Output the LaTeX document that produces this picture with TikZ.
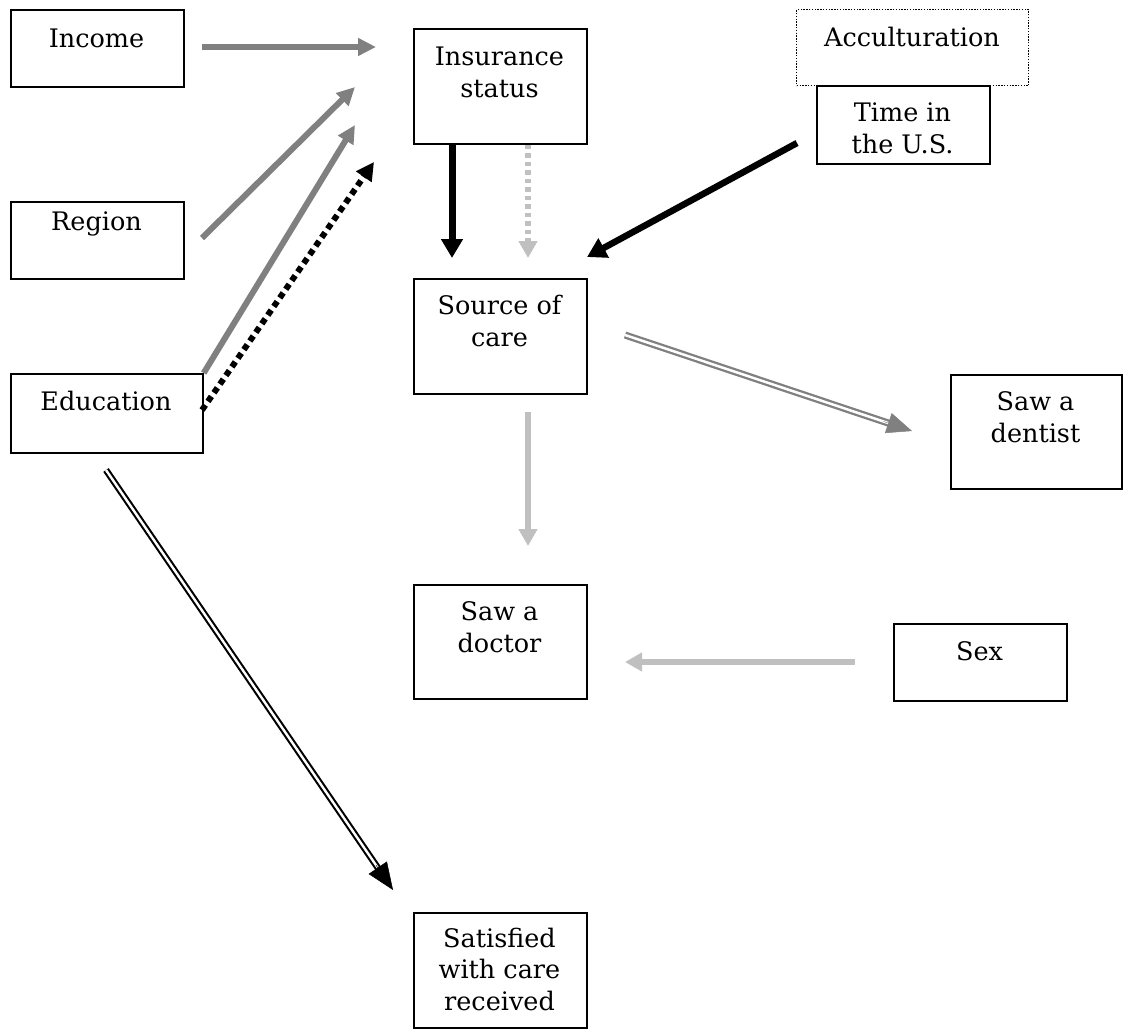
\documentclass[tikz,border=0pt]{standalone}
\usepackage{fontspec}
\setmainfont{DejaVu Serif}
\usetikzlibrary{arrows.meta,calc}
\definecolor{midgray}{RGB}{128,128,128}
\definecolor{lightgr}{RGB}{192,192,192}
\tikzset{
  box/.style={draw, line width=1.7pt, rectangle, anchor=north west, inner sep=0pt},
  dotbox/.style={box, line width=1.4pt, dash pattern=on 1.4pt off 1.4pt},
  lbl/.style={anchor=base, align=center, inner sep=0pt, font=\fontsize{25.5}{31.5}\selectfont},
  grayarr/.style={draw=midgray, line width=6pt, -{Triangle[length=18pt,width=17pt]}},
  blackarr/.style={draw=black, line width=7pt, -{Triangle[length=19pt,width=21pt]}},
  blackdot/.style={draw=black, line width=6pt, dash pattern=on 6pt off 4.5pt, -{Triangle[length=18pt,width=18pt]}},
  lightdot/.style={draw=lightgr, line width=5.5pt, dash pattern=on 4.5pt off 4pt, -{Triangle[length=17pt,width=18pt]}},
  lightarr/.style={draw=lightgr, line width=5.5pt, -{Triangle[length=17pt,width=18pt]}},
  dblgray/.style={draw=midgray, line width=2.3pt, double=white, double distance=2.5pt},
  dblblack/.style={draw=black, line width=2.1pt, double=white, double distance=2.4pt},
}
\begin{document}
\begin{tikzpicture}[x=1pt,y=-1pt]
\useasboundingbox[fill=white] (0,0) rectangle (1124,1029);

% boxes
\node[box, minimum width=173pt, minimum height=77pt] (income) at (10,9) {};
\node[box, minimum width=173pt, minimum height=115pt] (insurance) at (413,28) {};
\node[dotbox, minimum width=232pt, minimum height=76pt] (accult) at (796,9) {};
\node[box, minimum width=173pt, minimum height=78pt] (time) at (816,85) {};
\node[box, minimum width=173pt, minimum height=77pt] (region) at (10,201) {};
\node[box, minimum width=173pt, minimum height=115pt] (source) at (413,278) {};
\node[box, minimum width=192pt, minimum height=79pt] (education) at (10,373) {};
\node[box, minimum width=171pt, minimum height=114pt] (dentist) at (950,374) {};
\node[box, minimum width=173pt, minimum height=114pt] (doctor) at (413,584) {};
\node[box, minimum width=173pt, minimum height=77pt] (sex) at (893,623) {};
\node[box, minimum width=173pt, minimum height=115pt] (satisfied) at (413,912) {};

% texts (anchor = baseline of last line)
\node[lbl] (tincome) at (96.5,47) {Income};
\node[lbl] (tinsurance) at (499.5,97) {Insurance\\status};
\node[lbl] (taccult) at (912,46) {Acculturation};
\node[lbl] (ttime) at (902.5,153) {Time in\\the U.S.};
\node[lbl] (tregion) at (96.5,230) {Region};
\node[lbl] (tsource) at (499.5,346) {Source of\\care};
\node[lbl] (teducation) at (106,410) {Education};
\node[lbl] (tdentist) at (1035.5,442) {Saw a\\dentist};
\node[lbl] (tdoctor) at (499.5,652) {Saw a\\doctor};
\node[lbl] (tsex) at (979.5,660) {Sex};
\node[lbl] (tsatisfied) at (499.5,1010) {Satisfied\\with care\\received};

% connector end points
\coordinate (a1s) at (202,47);   \coordinate (a1e) at (376,47);
\coordinate (a2s) at (202,238);  \coordinate (a2e) at (355,87);
\coordinate (a3e) at (355,125);
\coordinate (a4s) at (202,410);  \coordinate (a4e) at (374,162);
\coordinate (a5e) at (452,258);
\coordinate (a6e) at (528,258);
\coordinate (a7s) at (797,143);  \coordinate (a7e) at (587,257);
\coordinate (a8s) at (625,335);  \coordinate (a8e) at (912,431);
\coordinate (a9s) at (528,412);  \coordinate (a9e) at (528,546);
\coordinate (a10s) at (855,662); \coordinate (a10e) at (625,662);
\coordinate (a11s) at (106,470); \coordinate (a11e) at (393,890);

% connectors
\draw[grayarr] (a1s) -- (a1e);
\draw[grayarr] (a2s) -- (a2e);
\draw[grayarr] (education.north east) -- (a3e);
\draw[blackdot] (a4s) -- (a4e);
\draw[blackarr] (insurance.south -| a5e) -- (a5e);
\draw[lightdot] (insurance.south -| a6e) -- (a6e);
\draw[blackarr, line width=6.5pt] (a7s) -- (a7e);
\draw[dblgray, shorten >=20pt] (a8s) -- (a8e);
\draw[draw=midgray, line width=0.5pt, -{Triangle[length=25pt,width=21pt]}] ($(a8e)!30pt!(a8s)$) -- (a8e);
\draw[lightarr] (a9s) -- (a9e);
\draw[lightarr, line width=6pt] (a10s) -- (a10e);
\draw[dblblack, shorten >=22pt] (a11s) -- (a11e);
\draw[draw=black, line width=0.5pt, -{Triangle[length=27pt,width=22pt]}] ($(a11e)!30pt!(a11s)$) -- (a11e);
\end{tikzpicture}
\end{document}
